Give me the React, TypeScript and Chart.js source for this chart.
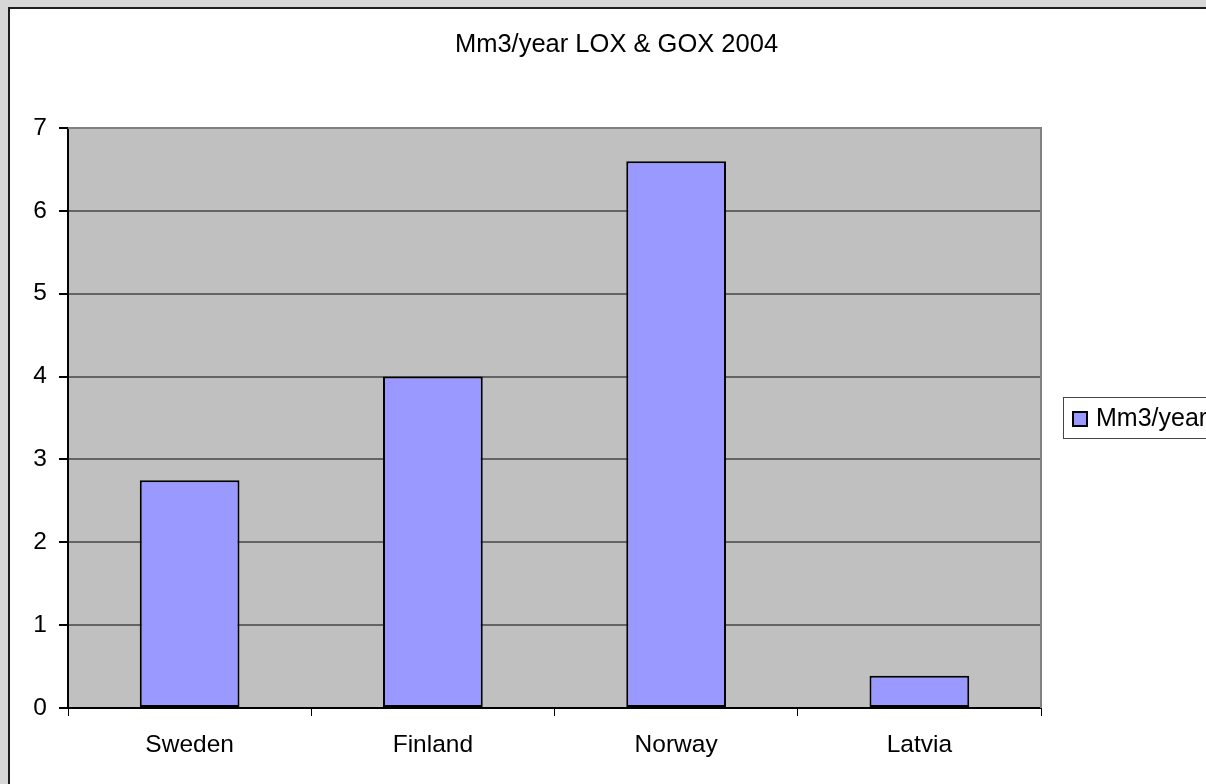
import React, { useEffect, useRef } from "react";
import { Chart, registerables } from "chart.js";

Chart.register(...registerables);

const categories = ["Sweden", "Finland", "Norway", "Latvia"];
const seriesLabel = "Mm3/year";
const seriesValues = [2.75, 4.0, 6.6, 0.39];
const titleText = "Mm3/year LOX & GOX 2004";
const yTicks = [0, 1, 2, 3, 4, 5, 6, 7];

const FONT = '"Liberation Sans", Arial, sans-serif';

const decorPlugin = {
  id: "decor",
  beforeDraw(chart: any) {
    const { ctx, width, height, chartArea } = chart;
    ctx.save();
    ctx.fillStyle = "#d7d7d7";
    ctx.fillRect(0, 0, width, height);
    ctx.fillStyle = "#ffffff";
    ctx.fillRect(9, 8, width, height);
    ctx.strokeStyle = "#1e1e1e";
    ctx.lineWidth = 2;
    ctx.beginPath();
    ctx.moveTo(9, height + 5);
    ctx.lineTo(9, 8);
    ctx.lineTo(width + 5, 8);
    ctx.stroke();
    ctx.fillStyle = "#c0c0c0";
    ctx.fillRect(chartArea.left, chartArea.top, chartArea.right - chartArea.left, chartArea.bottom - chartArea.top);
    ctx.restore();
  },
  afterDraw(chart: any) {
    const { ctx, chartArea } = chart;
    ctx.save();
    // plot area top/right border
    ctx.strokeStyle = "#808080";
    ctx.lineWidth = 2;
    ctx.beginPath();
    ctx.moveTo(chartArea.left, chartArea.top);
    ctx.lineTo(chartArea.right, chartArea.top);
    ctx.lineTo(chartArea.right, chartArea.bottom);
    ctx.stroke();
    // title
    ctx.fillStyle = "#000";
    ctx.font = `25.5px ${FONT}`;
    ctx.textAlign = "center";
    ctx.textBaseline = "middle";
    ctx.fillText(titleText, 616.5, 45);
    // legend
    const ds = chart.data.datasets[0];
    const midY = (chartArea.top + chartArea.bottom) / 2;
    const boxLeft = 1063.5;
    ctx.strokeStyle = "#444";
    ctx.lineWidth = 1;
    ctx.strokeRect(boxLeft, midY - 20.5, 300, 41);
    ctx.fillStyle = ds.backgroundColor;
    ctx.fillRect(1073, midY - 6, 14, 14);
    ctx.strokeStyle = "#000";
    ctx.lineWidth = 2;
    ctx.strokeRect(1073, midY - 6, 14, 14);
    ctx.fillStyle = "#000";
    ctx.font = `25px ${FONT}`;
    ctx.textAlign = "left";
    ctx.textBaseline = "middle";
    ctx.fillText(ds.label, 1096, midY + 1);
    ctx.restore();
  },
};

export default function App() {
  const ref = useRef<HTMLCanvasElement>(null);
  useEffect(() => {
    document.body.style.margin = "0";
    document.body.style.overflow = "hidden";
    const chart = new Chart(ref.current as HTMLCanvasElement, {
      type: "bar",
      data: {
        labels: categories,
        datasets: [
          {
            label: seriesLabel,
            data: seriesValues,
            backgroundColor: "#9999ff",
            borderColor: "#000000",
            borderWidth: 2,
            borderSkipped: false,
            barPercentage: 0.41,
            categoryPercentage: 1,
          },
        ],
      },
      options: {
        responsive: false,
        animation: false,
        layout: { padding: { top: 128, right: 165, bottom: 0, left: 0 } },
        plugins: {
          legend: { display: false },
          title: { display: false },
          tooltip: { enabled: false },
        },
        scales: {
          x: {
            afterFit: (s: any) => {
              s.height = 76;
            },
            grid: {
              offset: true,
              drawOnChartArea: false,
              tickColor: "#000",
              tickLength: 8,
              lineWidth: 1,
            },
            border: { color: "#000", width: 2 },
            ticks: {
              color: "#000",
              font: { family: FONT, size: 24.5 },
              padding: 15,
              maxRotation: 0,
            },
          },
          y: {
            min: 0,
            max: 7,
            afterFit: (s: any) => {
              s.width = 68;
            },
            afterBuildTicks: (s: any) => {
              s.ticks = yTicks.map((v) => ({ value: v }));
            },
            grid: {
              color: "#646464",
              lineWidth: 2,
              tickColor: "#000",
              tickLength: 9,
            },
            border: { color: "#000", width: 2 },
            ticks: {
              color: "#000",
              font: { family: FONT, size: 24.5 },
              padding: 12,
            },
          },
        },
      },
      plugins: [decorPlugin],
    });
    return () => chart.destroy();
  }, []);
  return (
    <div style={{ width: 1206, height: 784, overflow: "hidden", position: "relative" }}>
      <canvas ref={ref} width={1206} height={784} style={{ display: "block", width: 1206, height: 784 }} />
    </div>
  );
}
